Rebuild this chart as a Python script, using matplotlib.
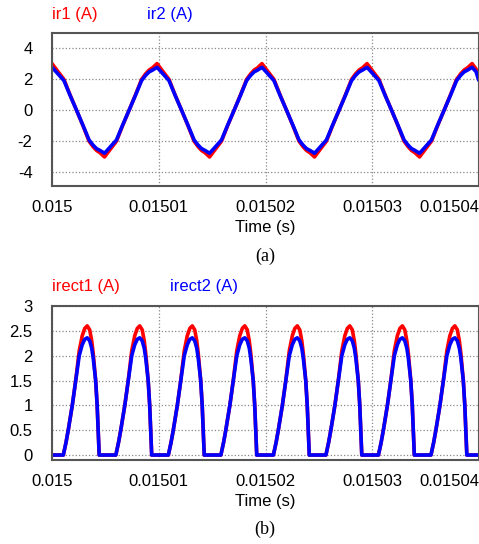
import numpy as np
import matplotlib
matplotlib.use('Agg')
import matplotlib.pyplot as plt

plt.rcParams['font.family'] = ['Liberation Sans', 'DejaVu Sans']

# x axis (s)
x_ticks = [0.015, 0.01501, 0.01502, 0.01503, 0.01504]
x_tick_labels = ['0.015', '0.01501', '0.01502', '0.01503', '0.01504']

# (a) ir1 / ir2 — times in microseconds after 0.015 s
# extrema (peak, trough, peak, ...)
extrema_times = [0.0, 4.92, 9.84, 14.76, 19.67, 24.59, 29.51, 34.43, 39.35]
# one half cycle, going from an extremum towards the next one
half_dt = [0.0, 0.37, 1.12, 1.69, 2.30, 2.90, 3.47, 3.84, 4.17, 4.50]
half_ir1 = [3.02, 2.68, 2.0, 1.0, 0.0, -1.0, -2.0, -2.35, -2.6, -2.75]
half_ir2 = [2.78, 2.5, 1.92, 0.97, 0.0, -0.97, -1.92, -2.25, -2.48, -2.6]
end_ir1 = 2.1  # value at the right edge
end_ir2 = 2.0

# (b) irect1 / irect2 — one pulse, placed at each peak (us)
peak_times = [3.30, 8.22, 13.14, 18.06, 22.98, 27.90, 32.82, 37.74]
pulse_dt = [-2.24, -1.99, -1.78, -1.40, -1.08, -0.75, -0.47, -0.23, 0.0,
            0.23, 0.42, 0.56, 0.79, 0.93, 1.03, 1.12]
pulse_irect1 = [0.0, 0.25, 0.5, 1.0, 1.5, 2.1, 2.4, 2.55, 2.6,
                2.52, 2.3, 2.05, 1.5, 1.0, 0.5, 0.0]
pulse_irect2 = [0.0, 0.25, 0.5, 1.0, 1.5, 2.0, 2.22, 2.33, 2.36,
                2.3, 2.15, 1.95, 1.5, 1.0, 0.5, 0.0]

# assemble the series from the read points
t_ir, ir1, ir2 = [], [], []
for k, te in enumerate(extrema_times):
    sign = 1 if k % 2 == 0 else -1
    for d, a, b in zip(half_dt, half_ir1, half_ir2):
        if te + d <= 40.0:
            t_ir.append(te + d)
            ir1.append(sign * a)
            ir2.append(sign * b)
t_ir.append(39.95)
ir1.append(end_ir1)
ir2.append(end_ir2)

t_rect, irect1, irect2 = [0.0], [0.0], [0.0]
for tp in peak_times:
    t_rect += [tp + d for d in pulse_dt]
    irect1 += pulse_irect1
    irect2 += pulse_irect2
t_rect.append(40.0)
irect1.append(0.0)
irect2.append(0.0)


def to_sec(t_us):
    return 0.015 + np.array(t_us) * 1e-6


def style_axes(ax, yticks, yticklabels, ylim):
    ax.set_xlim(0.015, 0.01504)
    ax.set_ylim(*ylim)
    ax.set_xticks(x_ticks)
    ax.set_xticklabels(x_tick_labels)
    ax.set_yticks(yticks)
    ax.set_yticklabels(yticklabels)
    ax.tick_params(axis='both', length=0, labelsize=12)
    ax.tick_params(axis='x', pad=10)
    ax.tick_params(axis='y', pad=14)
    ax.get_xticklabels()[-1].set_ha('right')
    ax.grid(True, linestyle=':', color='#888888', linewidth=0.9)
    for s in ax.spines.values():
        s.set_color('#555555')
        s.set_linewidth(1.5)
    ax.set_xlabel('Time (s)', fontsize=12, labelpad=4)


fig = plt.figure(figsize=(4.79, 5.44), dpi=100)

ax1 = fig.add_axes([52 / 479, 1 - 186 / 544, 427 / 479, 153 / 544])
ax1.plot(to_sec(t_ir), ir1, color='#ff0000', linewidth=2.6)
ax1.plot(to_sec(t_ir), ir2, color='#0000ff', linewidth=2.6)
style_axes(ax1, [-4, -2, 0, 2, 4], ['-4', '-2', '0', '2', '4'], (-4.9, 5.0))

ax2 = fig.add_axes([52 / 479, 1 - 460 / 544, 427 / 479, 154 / 544])
ax2.plot(to_sec(t_rect), irect1, color='#ff0000', linewidth=2.6)
ax2.plot(to_sec(t_rect), irect2, color='#0000ff', linewidth=2.6)
style_axes(ax2, [0, 0.5, 1, 1.5, 2, 2.5, 3], ['0', '0.5', '1', '1.5', '2', '2.5', '3'], (-0.1, 3.0))

# signal names
fig.text(52 / 479, 1 - 14 / 544, 'ir1 (A)', color='#ff0000', fontsize=12, va='center')
fig.text(147 / 479, 1 - 14 / 544, 'ir2 (A)', color='#0000ff', fontsize=12, va='center')
fig.text(52 / 479, 1 - 287 / 544, 'irect1 (A)', color='#ff0000', fontsize=12, va='center')
fig.text(170 / 479, 1 - 287 / 544, 'irect2 (A)', color='#0000ff', fontsize=12, va='center')

fig.text(265 / 479, 1 - 256 / 544, '(a)', fontsize=13, ha='center', va='center',
         family=['Liberation Serif', 'DejaVu Serif'])
fig.text(265 / 479, 1 - 529 / 544, '(b)', fontsize=13, ha='center', va='center',
         family=['Liberation Serif', 'DejaVu Serif'])

fig.savefig('out.png', dpi=100)
